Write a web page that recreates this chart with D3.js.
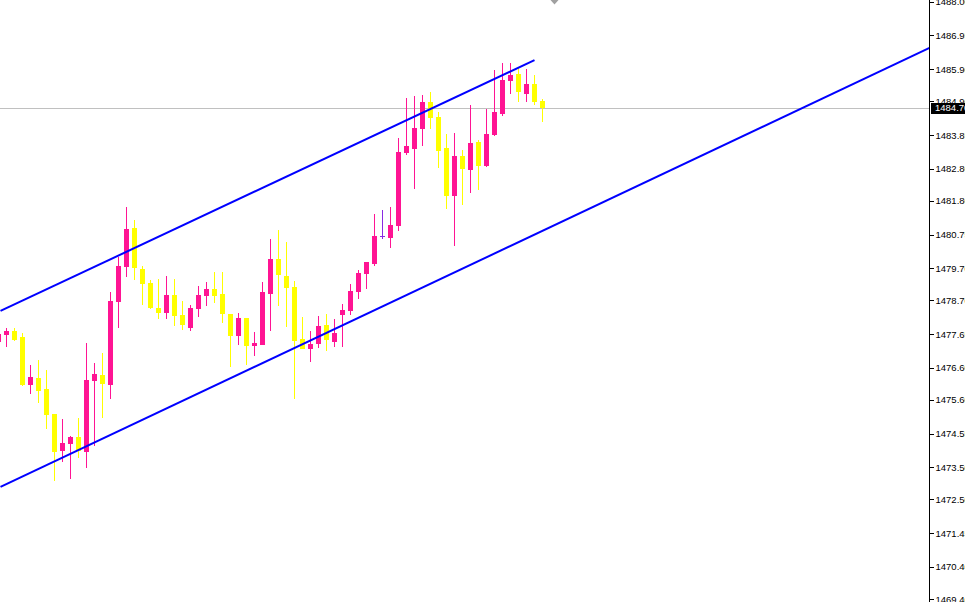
<!DOCTYPE html>
<html>
<head>
<meta charset="utf-8">
<script src="https://cdn.jsdelivr.net/npm/d3@7"></script>
<style>
html,body{margin:0;padding:0;background:#fff;}
svg{display:block;}
</style>
</head>
<body>
<svg id="chart" width="965" height="602"></svg>
<script>
// ---- data ----
const opens = [1477.40,1477.62,1477.75,1477.56,1476.06,1476.28,1475.94,1475.16,1474.01,1474.23,
1474.45,1473.98,1476.19,1476.38,1476.06,1478.65,1479.74,1480.95,1479.68,1479.24,
1478.46,1478.31,1478.87,1478.24,1477.84,1478.43,1478.84,1479.05,1478.90,1478.27,
1477.59,1478.15,1477.28,1477.31,1478.90,1479.99,1479.46,1479.12,1477.50,1477.19,
1477.34,1477.93,1477.40,1478.24,1478.37,1478.96,1479.52,1479.83,1480.70,1480.64,
1481.02,1483.29,1483.41,1484.04,1484.88,1484.41,1483.44,1481.95,1483.20,1482.76,
1483.63,1482.88,1483.85,1484.50,1485.53,1485.75,1485.13,1485.44,1484.91];
const highs = [1477.68,1477.84,1477.84,1477.68,1476.69,1476.84,1476.53,1475.16,1475.01,1474.48,
1475.04,1477.37,1476.75,1477.06,1478.96,1480.05,1481.61,1481.20,1479.77,1479.33,
1479.36,1479.46,1479.36,1478.68,1478.56,1479.15,1479.27,1479.58,1479.58,1478.27,
1478.31,1478.15,1477.71,1479.27,1480.61,1480.89,1480.52,1479.30,1478.18,1477.75,
1478.21,1478.27,1478.12,1478.59,1479.21,1479.65,1479.89,1481.39,1481.51,1481.61,
1483.76,1485.00,1485.06,1485.09,1485.19,1484.57,1483.88,1483.91,1483.38,1484.78,
1483.69,1484.66,1485.87,1486.09,1486.09,1485.97,1485.90,1485.72,1484.97];
const lows = [1477.15,1477.25,1477.43,1476.03,1475.78,1475.50,1474.69,1473.07,1473.67,1473.14,
1473.79,1473.48,1474.16,1475.04,1475.63,1477.84,1479.43,1479.33,1478.56,1478.43,
1478.12,1478.12,1477.90,1477.78,1477.75,1478.18,1478.52,1478.62,1477.99,1476.62,
1477.31,1476.69,1476.97,1477.31,1477.75,1478.52,1477.87,1475.63,1477.19,1476.78,
1477.22,1477.12,1477.25,1477.25,1478.24,1478.74,1479.05,1479.77,1480.61,1480.33,
1480.86,1483.23,1482.17,1483.51,1484.04,1482.82,1481.54,1480.39,1481.67,1482.04,
1482.14,1482.85,1483.82,1484.44,1485.13,1484.88,1484.88,1484.78,1484.25];
const closes = [1477.65,1477.75,1477.47,1476.06,1476.31,1475.88,1475.13,1473.98,1474.26,1474.45,
1474.01,1476.22,1476.41,1476.10,1478.68,1479.77,1480.92,1479.71,1479.21,1478.46,
1478.31,1478.87,1478.21,1477.93,1478.46,1478.87,1479.05,1478.84,1478.27,1477.59,
1478.15,1477.28,1477.37,1478.96,1479.99,1479.49,1479.08,1477.43,1477.19,1477.34,
1477.90,1477.47,1477.68,1478.40,1478.99,1479.55,1479.89,1480.70,1480.70,1481.05,
1483.32,1483.51,1484.07,1484.88,1484.38,1483.35,1481.95,1483.20,1482.79,1483.60,
1482.88,1483.88,1484.57,1485.56,1485.72,1485.19,1485.44,1484.88,1484.70];

const tickValues = [1488.00,1486.95,1485.90,1484.90,1483.85,1482.80,1481.80,1480.75,1479.70,
1478.70,1477.65,1476.60,1475.60,1474.55,1473.50,1472.50,1471.45,1470.40,1469.40];
const tickLabels = ["1488.00","1486.95","1485.90","1484.90","1483.85","1482.80","1481.80","1480.75","1479.70",
"1478.70","1477.65","1476.60","1475.60","1474.55","1473.50","1472.50","1471.45","1470.40","1469.40"];

const currentPrice = 1484.70;
// channel lines: [bar index, price]
const channelUpper = [[0.25, 1478.37], [67, 1486.18]];
const channelLower = [[0.25, 1472.89], [116.375, 1486.56]];

// ---- layout ----
const W = 965, H = 602, axisX = 929;
const FONT = "'Liberation Sans', Arial, sans-serif";
const FS = "9.5px";
const svg = d3.select("#chart");
svg.append("rect").attr("width", W).attr("height", H).attr("fill", "#fff");

const x = d3.scaleLinear().domain([0, 68]).range([-1.5, 542.5]);
const y = d3.scaleLinear().domain([1469.4, 1488.0]).range([599, 1.7]);

const bull = "#FF1493", bear = "#FFFF00", doji = "#8A2BE2";
const candles = opens.map((o, i) => ({i, o, h: highs[i], l: lows[i], c: closes[i]}));
const colorOf = d => d.c > d.o ? bull : (d.c < d.o ? bear : doji);

// current price line
svg.append("line")
  .attr("x1", 0).attr("x2", axisX)
  .attr("y1", Math.round(y(currentPrice)) + 0.5).attr("y2", Math.round(y(currentPrice)) + 0.5)
  .attr("stroke", "#C0C0C0").attr("stroke-width", 1);

// candles
const g = svg.append("g").attr("shape-rendering", "crispEdges");
const cg = g.selectAll("g.c").data(candles).join("g").attr("class", "c");
cg.append("rect")
  .attr("x", d => Math.round(x(d.i) - 0.5))
  .attr("width", 1)
  .attr("y", d => Math.round(y(d.h)))
  .attr("height", d => Math.max(1, Math.round(y(d.l)) - Math.round(y(d.h))))
  .attr("fill", colorOf);
cg.append("rect")
  .attr("x", d => Math.round(x(d.i) - 2.5))
  .attr("width", 5)
  .attr("y", d => Math.round(y(Math.max(d.o, d.c))))
  .attr("height", d => Math.max(1, Math.round(y(Math.min(d.o, d.c))) - Math.round(y(Math.max(d.o, d.c)))))
  .attr("fill", colorOf);

// channel lines
const line = d3.line().x(d => x(d[0])).y(d => y(d[1]));
[channelUpper, channelLower].forEach(pts => {
  svg.append("path").attr("d", line(pts))
    .attr("fill", "none").attr("stroke", "#0000FF").attr("stroke-width", 2);
});

// shift marker at top
svg.append("path")
  .attr("d", d3.line()([[x(69.5) - 4, 0], [x(69.5) + 4, 0], [x(69.5), 4.5]]) + "Z")
  .attr("fill", "#A0A0A0");

// axis
const axis = d3.axisRight(y)
  .tickValues(tickValues)
  .tickFormat((d, k) => tickLabels[k])
  .tickSize(4).tickSizeOuter(0).tickPadding(2);
const ag = svg.append("g").attr("transform", `translate(${axisX + 0.5},0)`).call(axis);
ag.select(".domain").remove();
ag.selectAll("line").attr("stroke", "#000").attr("shape-rendering", "crispEdges");
ag.selectAll("text").attr("fill", "#000")
  .style("font-family", FONT).style("font-size", FS);
svg.append("line").attr("x1", axisX + 0.5).attr("x2", axisX + 0.5).attr("y1", 0).attr("y2", H)
  .attr("stroke", "#000").attr("shape-rendering", "crispEdges");

// current price label
const cy = y(currentPrice);
svg.append("rect").attr("x", axisX + 2).attr("y", Math.round(cy) - 5).attr("width", W - axisX - 2).attr("height", 11)
  .attr("fill", "#000");
svg.append("text").attr("x", axisX + 6).attr("y", cy).attr("dy", "0.35em")
  .attr("fill", "#fff")
  .style("font-family", FONT).style("font-size", FS)
  .text(currentPrice.toFixed(2));
</script>
</body>
</html>
